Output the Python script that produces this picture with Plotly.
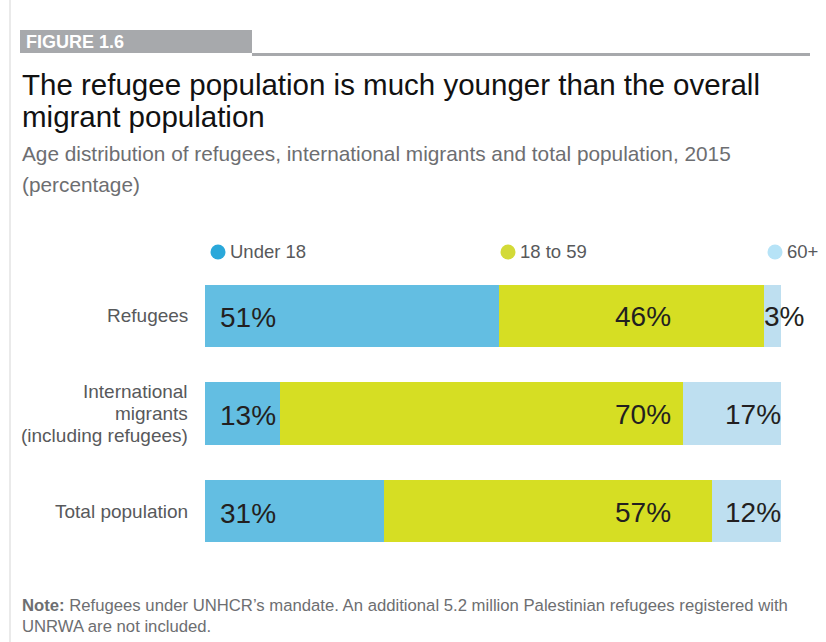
import plotly.graph_objects as go

# ---------------- data ----------------
categories = ["Refugees", "International<br>migrants<br>(including refugees)", "Total population"]
series_names = ["Under 18", "18 to 59", "60+"]
under18 = [51, 13, 31]
age18_59 = [46, 70, 57]
age60plus = [3, 17, 12]

title_lines = ["The refugee population is much younger than the overall", "migrant population"]
subtitle_lines = ["Age distribution of refugees, international migrants and total population, 2015", "(percentage)"]
figure_label = "FIGURE 1.6"
note_lines = ["<b>Note:</b> Refugees under UNHCR’s mandate. An additional 5.2 million Palestinian refugees registered with",
              "UNRWA are not included."]

# ---------------- style ----------------
W, H = 826, 642
ML, MR, MT, MB = 205, 45, 267, 82
PW, PH = W - ML - MR, H - MT - MB
bar_colors = ["#63BEE2", "#D6DE23", "#BEDFF0"]
dot_colors = ["#2AA8DA", "#D3DA37", "#B6E3F7"]
FONT = "Liberation Sans, Arial, sans-serif"
MID_LABEL_X = 81.2
CAT_LINE_GAP = 22


def px(x):
    return (x - ML) / PW


def py(y):
    return (H - MB - y) / PH


fig = go.Figure()
series = [under18, age18_59, age60plus]
for name, vals, col in zip(series_names, series, bar_colors):
    fig.add_trace(go.Bar(
        y=categories, x=vals, name=name, orientation="h",
        marker=dict(color=col, line=dict(width=0)),
        width=0.635, showlegend=False, hoverinfo="x+name",
    ))

annotations = []
shapes = []

# category labels (custom, tighter line spacing)
cat_font = dict(family=FONT, size=19, color="#58595B")
for cat in categories:
    lines = cat.split("<br>")
    n = len(lines)
    for j, line in enumerate(lines):
        off = (j - (n - 1) / 2) * CAT_LINE_GAP
        annotations.append(dict(x=0, y=cat, xref="x", yref="y", text=line, xanchor="right", yanchor="middle",
                                xshift=-15, yshift=-off, showarrow=False, font=cat_font))

# data labels
label_font = dict(family=FONT, size=28, color="#231F20")
for i, cat in enumerate(categories):
    annotations.append(dict(x=0, y=cat, xref="x", yref="y", text=f"{under18[i]}%",
                            xanchor="left", yanchor="middle", xshift=13, yshift=-2, showarrow=False, font=label_font))
    annotations.append(dict(x=MID_LABEL_X, y=cat, xref="x", yref="y", text=f"{age18_59[i]}%",
                            xanchor="right", yanchor="middle", yshift=-1, showarrow=False, font=label_font))
    start60 = under18[i] + age18_59[i]
    end60 = start60 + age60plus[i]
    if age60plus[i] >= 10:
        annotations.append(dict(x=end60, y=cat, xref="x", yref="y", text=f"{age60plus[i]}%",
                                xanchor="right", yanchor="middle", xshift=2, yshift=-1, showarrow=False, font=label_font))
    else:
        annotations.append(dict(x=start60, y=cat, xref="x", yref="y", text=f"{age60plus[i]}%",
                                xanchor="left", yanchor="middle", xshift=-2, yshift=-1, showarrow=False, font=label_font))

# legend (custom)
legend_x = [218, 508, 775]
legend_y = 252
for name, col, lx in zip(series_names, dot_colors, legend_x):
    shapes.append(dict(type="circle", xref="paper", yref="paper", xsizemode="pixel", ysizemode="pixel",
                       xanchor=px(lx), yanchor=py(legend_y), x0=-7.5, x1=7.5, y0=-7.5, y1=7.5,
                       fillcolor=col, line=dict(width=0)))
    annotations.append(dict(x=px(lx + 10), y=py(legend_y), xref="paper", yref="paper", text=name,
                            xanchor="left", yanchor="middle", showarrow=False,
                            font=dict(family=FONT, size=18.5, color="#58595B")))

# header
shapes.append(dict(type="line", xref="paper", yref="paper", x0=px(10), x1=px(10), y0=py(0), y1=py(H),
                   line=dict(color="#EAEAEA", width=2)))
shapes.append(dict(type="rect", xref="paper", yref="paper", x0=px(20), x1=px(252), y0=py(30), y1=py(53),
                   fillcolor="#A7A9AC", line=dict(width=0)))
shapes.append(dict(type="line", xref="paper", yref="paper", x0=px(252), x1=px(810), y0=py(54.5), y1=py(54.5),
                   line=dict(color="#A7A9AC", width=3)))
annotations.append(dict(x=px(24), y=py(42), xref="paper", yref="paper", text=f"<b>{figure_label}</b>",
                        xanchor="left", yanchor="middle", showarrow=False,
                        font=dict(family=FONT, size=18, color="white")))

for t, yy in zip(title_lines, [84, 117]):
    annotations.append(dict(x=px(20), y=py(yy), xref="paper", yref="paper", text=t,
                            xanchor="left", yanchor="middle", showarrow=False,
                            font=dict(family=FONT, size=29.5, color="#111111")))
for t, yy in zip(subtitle_lines, [153, 184]):
    annotations.append(dict(x=px(20), y=py(yy), xref="paper", yref="paper", text=t,
                            xanchor="left", yanchor="middle", showarrow=False,
                            font=dict(family=FONT, size=20.8, color="#6D6E71")))
for t, yy in zip(note_lines, [605, 626]):
    annotations.append(dict(x=px(20), y=py(yy), xref="paper", yref="paper", text=t,
                            xanchor="left", yanchor="middle", showarrow=False,
                            font=dict(family=FONT, size=16.7, color="#6D6E71")))

fig.update_layout(
    width=W, height=H, barmode="stack",
    margin=dict(l=ML, r=MR, t=MT, b=MB, autoexpand=False),
    paper_bgcolor="white", plot_bgcolor="white",
    xaxis=dict(range=[0, 100], visible=False, fixedrange=True),
    yaxis=dict(categoryorder="array", categoryarray=categories, autorange="reversed",
               showgrid=False, zeroline=False, showline=False, ticks="", showticklabels=False,
               fixedrange=True),
    annotations=annotations, shapes=shapes, showlegend=False,
)

fig.write_html("out.html", config={"displayModeBar": False},
               post_script="document.body.style.margin='0';document.body.style.padding='0';")
